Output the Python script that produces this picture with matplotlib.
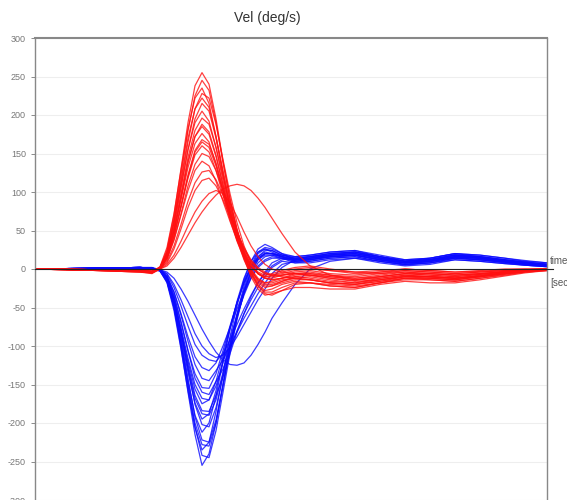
import numpy as np
import matplotlib
matplotlib.use("Agg")
import matplotlib.pyplot as plt

# time samples (ms)
t_ms = [0, 130, 210, 234, 250, 264, 278, 292, 306, 320, 334, 348, 362, 376, 390, 404, 418,
        432, 446, 460, 474, 494, 520, 550, 590, 640, 690, 740, 790, 840, 890, 940, 980, 1024]

# red traces (deg/s)
red_1 = [0, -1, -3, -4, 2, 25, 70, 130, 190, 238, 255, 240, 195, 140, 92, 50, 18, -5, -18, -24, -22, -16, -10, -8, -12, -15, -10, -6, -8, -10, -7, -4, -2, 0]
red_2 = [0, -2, -4, -5, 1, 22, 65, 122, 180, 225, 245, 232, 190, 138, 90, 52, 22, 0, -12, -18, -18, -14, -12, -14, -18, -20, -14, -9, -10, -12, -9, -5, -3, -1]
red_3 = [0, -1, -3, -4, 3, 28, 72, 128, 182, 222, 235, 215, 172, 122, 78, 42, 14, -6, -20, -28, -26, -20, -16, -18, -22, -24, -18, -12, -14, -16, -12, -7, -4, -2]
red_4 = [0, -1, -2, -3, 2, 20, 60, 112, 165, 208, 228, 222, 188, 142, 98, 60, 30, 8, -6, -12, -12, -8, -4, -2, -6, -8, -4, 0, -2, -4, -3, -1, 0, 0]
red_5 = [0, -2, -4, -6, 0, 18, 55, 105, 155, 195, 215, 205, 170, 125, 82, 46, 18, -2, -14, -20, -20, -16, -12, -10, -14, -18, -12, -8, -10, -12, -8, -5, -3, -1]
red_6 = [0, -1, -3, -4, 2, 22, 60, 108, 155, 190, 205, 192, 158, 115, 76, 42, 16, -2, -14, -18, -16, -12, -6, -4, -8, -10, -6, -2, -4, -6, -4, -2, -1, 0]
red_7 = [0, -1, -2, -3, 1, 18, 52, 98, 145, 180, 196, 188, 158, 120, 82, 50, 24, 6, -6, -12, -14, -12, -10, -12, -16, -18, -14, -10, -12, -14, -10, -6, -3, -1]
red_8 = [0, -2, -3, -5, 0, 16, 48, 92, 138, 172, 188, 178, 148, 110, 74, 44, 20, 4, -6, -10, -8, -4, 0, 2, -2, -4, -2, 0, -2, -4, -2, 0, 0, 0]
red_9 = [0, -1, -3, -4, 2, 18, 50, 90, 132, 163, 176, 165, 136, 100, 66, 38, 16, -4, -22, -32, -34, -28, -20, -18, -20, -22, -18, -14, -14, -16, -12, -8, -4, -2]
red_10 = [0, -1, -2, -4, 1, 15, 44, 82, 122, 154, 168, 162, 138, 105, 72, 44, 22, 6, -4, -8, -6, -2, 2, 4, 0, -4, -6, -4, -6, -8, -6, -3, -1, 0]
red_11 = [0, -2, -4, -5, 0, 14, 42, 80, 118, 148, 160, 152, 128, 96, 64, 36, 14, -10, -26, -34, -32, -28, -24, -24, -26, -26, -20, -16, -18, -18, -14, -9, -5, -2]
red_12 = [0, -1, -3, -4, 1, 12, 38, 72, 108, 136, 150, 146, 128, 102, 74, 48, 26, 10, 0, -6, -8, -8, -6, -6, -10, -14, -12, -8, -10, -12, -9, -5, -3, -1]
red_13 = [0, -1, -2, -3, 2, 14, 38, 70, 102, 128, 140, 134, 114, 88, 62, 38, 18, 4, -6, -12, -14, -12, -8, -6, -8, -12, -10, -6, -6, -8, -6, -4, -2, 0]
red_14 = [0, -2, -3, -4, 0, 10, 30, 58, 88, 112, 126, 128, 116, 96, 72, 48, 28, 12, 2, -4, -8, -10, -12, -14, -18, -20, -16, -12, -12, -14, -10, -6, -3, -1]
red_15 = [0, -1, -2, -3, 1, 8, 26, 52, 80, 102, 115, 118, 108, 90, 68, 46, 26, 10, 0, -6, -8, -6, -2, 0, -2, -6, -4, -2, -4, -6, -4, -2, -1, 0]
red_16 = [0, -1, -2, -3, 0, 4, 14, 28, 44, 60, 74, 86, 96, 104, 108, 110, 108, 102, 92, 80, 66, 46, 22, 4, -8, -14, -10, -6, -8, -10, -7, -4, -2, 0]
red_17 = [0, -1, -2, -3, 0, 6, 18, 36, 56, 74, 88, 98, 102, 98, 86, 68, 48, 30, 16, 6, 0, -4, -6, -8, -10, -12, -8, -4, -6, -8, -6, -3, -1, 0]
red_18 = [0, -1, -3, -5, 1, 20, 62, 116, 170, 208, 222, 210, 172, 128, 86, 50, 20, -2, -16, -22, -22, -18, -14, -14, -18, -20, -16, -10, -10, -12, -10, -6, -3, -1]
red_19 = [0, -2, -3, -4, 1, 17, 50, 94, 140, 172, 185, 175, 146, 108, 70, 38, 12, -8, -22, -30, -30, -24, -18, -18, -22, -24, -18, -12, -12, -14, -10, -6, -3, -1]
red_20 = [0, -1, -2, -3, 2, 15, 44, 82, 120, 152, 165, 158, 134, 102, 70, 42, 20, 4, -6, -10, -10, -8, -6, -8, -12, -16, -14, -10, -10, -12, -9, -5, -2, 0]

# blue traces (deg/s)
blue_1 = [0, 1, 2, 1, -2, -16, -50, -102, -160, -215, -255, -240, -200, -150, -100, -58, -22, 5, 22, 28, 26, 20, 16, 18, 22, 24, 16, 10, 14, 20, 16, 12, 9, 6]
blue_2 = [0, 1, 2, 2, -1, -14, -46, -96, -152, -205, -242, -245, -210, -160, -110, -66, -30, -2, 16, 24, 24, 18, 14, 16, 20, 22, 14, 8, 12, 18, 14, 10, 8, 5]
blue_3 = [0, 0, 1, 1, -2, -18, -54, -104, -158, -206, -235, -225, -185, -136, -88, -48, -14, 10, 26, 32, 28, 20, 12, 12, 16, 18, 12, 6, 10, 16, 14, 10, 7, 4]
blue_4 = [0, 1, 2, 1, -1, -13, -44, -90, -142, -192, -222, -225, -196, -150, -104, -64, -30, -4, 12, 20, 20, 16, 12, 14, 18, 20, 14, 10, 12, 18, 15, 11, 8, 6]
blue_5 = [0, 1, 1, 0, -3, -17, -50, -96, -146, -190, -212, -200, -165, -120, -78, -42, -12, 10, 22, 26, 22, 16, 10, 10, 14, 16, 10, 5, 8, 14, 12, 8, 5, 3]
blue_6 = [0, 1, 2, 1, -1, -12, -40, -82, -130, -176, -202, -205, -180, -140, -98, -60, -28, -4, 12, 18, 18, 14, 10, 12, 16, 18, 12, 8, 10, 15, 12, 9, 7, 5]
blue_7 = [0, 0, 1, 1, -2, -15, -46, -88, -134, -174, -195, -188, -158, -118, -78, -44, -16, 4, 16, 22, 20, 16, 14, 16, 20, 22, 16, 12, 14, 20, 18, 14, 10, 8]
blue_8 = [0, 1, 2, 1, -1, -12, -40, -80, -124, -164, -184, -185, -164, -140, -110, -82, -58, -36, -18, -4, 8, 14, 8, 8, 12, 14, 8, 4, 6, 12, 10, 7, 5, 3]
blue_9 = [0, 1, 1, 0, -2, -14, -42, -80, -120, -156, -175, -170, -146, -112, -76, -44, -18, 2, 14, 20, 20, 18, 16, 18, 22, 24, 18, 12, 14, 20, 18, 14, 11, 8]
blue_10 = [0, 1, 2, 1, -1, -10, -34, -68, -106, -142, -160, -163, -146, -130, -104, -80, -58, -40, -24, -10, 2, 10, 8, 10, 14, 16, 10, 6, 8, 14, 12, 9, 6, 4]
blue_11 = [0, 0, 1, 1, -2, -12, -36, -70, -106, -136, -154, -155, -136, -106, -74, -44, -18, 2, 14, 20, 20, 16, 12, 12, 16, 18, 12, 8, 10, 16, 14, 10, 7, 5]
blue_12 = [0, 1, 2, 1, -1, -9, -30, -60, -94, -124, -142, -145, -132, -118, -100, -82, -64, -48, -32, -18, -6, 6, 10, 12, 16, 18, 12, 8, 10, 14, 12, 9, 6, 4]
blue_13 = [0, 1, 1, 0, -2, -10, -30, -58, -88, -114, -128, -132, -122, -100, -76, -52, -30, -12, 2, 10, 14, 14, 12, 14, 18, 20, 14, 10, 12, 16, 14, 10, 7, 5]
blue_14 = [0, 1, 2, 1, -1, -7, -24, -48, -74, -98, -112, -118, -120, -110, -92, -72, -52, -34, -18, -6, 4, 12, 14, 14, 16, 18, 12, 8, 10, 16, 14, 10, 8, 6]
blue_15 = [0, 1, 1, 0, -1, -4, -12, -26, -42, -60, -78, -94, -108, -118, -124, -125, -122, -112, -98, -82, -64, -44, -20, 0, 10, 14, 10, 6, 8, 12, 10, 7, 5, 3]
blue_16 = [0, 1, 2, 1, -1, -6, -20, -40, -62, -84, -100, -110, -115, -112, -102, -88, -72, -56, -40, -26, -12, 2, 12, 16, 18, 20, 14, 10, 12, 18, 16, 12, 9, 6]
blue_17 = [0, 1, 2, 1, -1, -15, -48, -98, -150, -200, -228, -230, -200, -152, -104, -62, -26, 2, 20, 26, 24, 18, 14, 16, 20, 22, 16, 10, 12, 18, 16, 11, 8, 5]
blue_18 = [0, 0, 1, 0, -2, -13, -42, -84, -128, -168, -188, -190, -170, -134, -96, -62, -32, -8, 8, 16, 18, 16, 12, 14, 18, 20, 14, 8, 10, 16, 14, 10, 7, 4]
blue_19 = [0, 1, 2, 1, -1, -11, -38, -76, -116, -150, -168, -170, -152, -122, -90, -60, -34, -12, 4, 12, 16, 14, 12, 14, 18, 22, 16, 10, 12, 18, 16, 12, 9, 6]

red_traces = [red_1, red_2, red_3, red_4, red_5, red_6, red_7, red_8, red_9, red_10,
              red_11, red_12, red_13, red_14, red_15, red_16, red_17, red_18, red_19, red_20]
blue_traces = [blue_1, blue_2, blue_3, blue_4, blue_5, blue_6, blue_7, blue_8, blue_9, blue_10,
               blue_11, blue_12, blue_13, blue_14, blue_15, blue_16, blue_17, blue_18, blue_19]

y_ticks = [-300, -250, -200, -150, -100, -50, 0, 50, 100, 150, 200, 250, 300]

plt.rcParams['font.family'] = ['Liberation Sans Narrow', 'Liberation Sans', 'DejaVu Sans']
plt.rcParams['axes.unicode_minus'] = False

fig = plt.figure(figsize=(5.67, 5.0), dpi=100)
ax = fig.add_axes([35/567, 0.0, 512/567, 462/500])

for y in blue_traces:
    ax.plot(t_ms, y, color='#0a0aff', lw=0.9, alpha=0.8)
for y in red_traces:
    ax.plot(t_ms, y, color='#ff1010', lw=0.9, alpha=0.8)

# zero line, a bit past the right border
ax.plot([0, 1036], [0, 0], color='#222222', lw=0.8, clip_on=False, zorder=5)

ax.set_xlim(0, 1024)
ax.set_ylim(-300, 300)
ax.set_yticks(y_ticks)
ax.set_xticks([])
ax.tick_params(axis='y', labelsize=6.5, colors='#777777', length=3, width=0.6)
ax.grid(axis='y', color='#eeeeee', lw=0.8)
ax.set_axisbelow(True)

for s in ['left', 'right']:
    ax.spines[s].set_color('#888888')
    ax.spines[s].set_linewidth(1.0)
ax.spines['top'].set_color('#888888')
ax.spines['top'].set_linewidth(1.5)
ax.spines['bottom'].set_visible(False)

fig.text(267/567, 1 - 18/500, 'Vel (deg/s)', ha='center', va='center',
         fontsize=10, color='#333333')
fig.text(550/567, 1 - 261/500, 'time', ha='left', va='center', fontsize=7, color='#555555')
fig.text(550/567, 1 - 283/500, '[sec]', ha='left', va='center', fontsize=7, color='#555555')

fig.savefig('out.png', dpi=100)
